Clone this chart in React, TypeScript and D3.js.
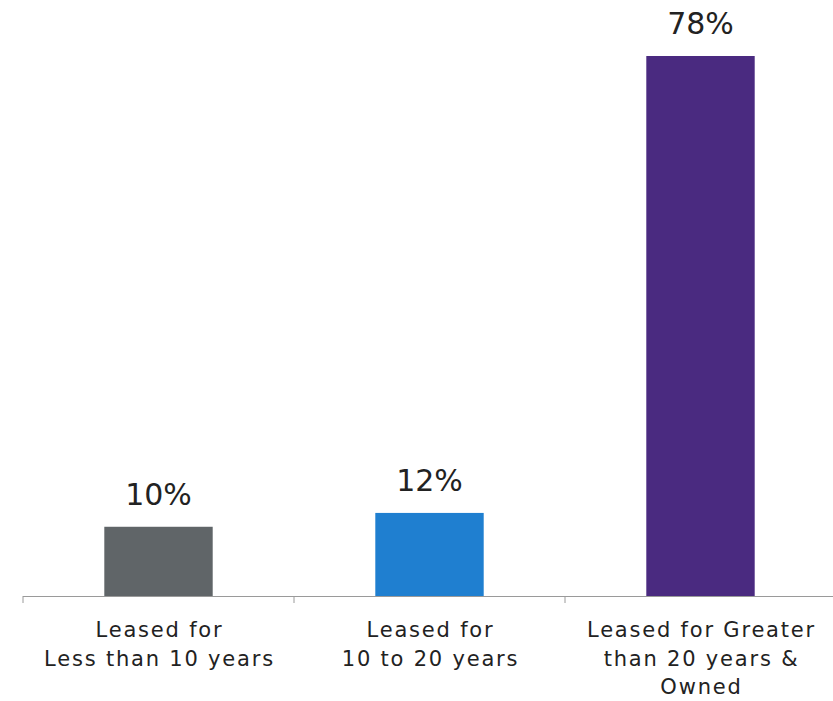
import React from "react";
import * as d3 from "d3";

const categories = ["lt10", "10to20", "gt20"];
const labelLines = [
  ["Leased for", "Less than 10 years"],
  ["Leased for", "10 to 20 years"],
  ["Leased for Greater", "than 20 years &", "Owned"],
];
const values = [10, 12, 78];
const colors = ["#606568", "#1f7fd0", "#4a2a80"];

const W = 833;
const H = 701;
const baseline = 596;
const topY = 56;

export default function App() {
  const x = d3
    .scaleBand<string>()
    .domain(categories)
    .range([23, 836])
    .paddingInner(0.6)
    .paddingOuter(0.3);
  const y = d3
    .scaleLinear()
    .domain([0, d3.max(values) as number])
    .range([baseline, topY]);
  const step = x.step();
  const tickXs = d3.range(categories.length + 1).map((i) => 23 + i * step);
  const font = "'DejaVu Sans', Verdana, sans-serif";

  return (
    <svg
      width={W}
      height={H}
      style={{ position: "absolute", left: 0, top: 0, display: "block", background: "#fff" }}
    >
      {categories.map((c, i) => (
        <g key={c}>
          <rect
            x={x(c)}
            y={y(values[i])}
            width={x.bandwidth()}
            height={baseline - y(values[i])}
            fill={colors[i]}
          />
          <text
            x={(x(c) as number) + x.bandwidth() / 2}
            y={y(values[i]) - 22}
            textAnchor="middle"
            fontFamily={font}
            fontSize={30}
            fill="#222"
          >
            {values[i]}%
          </text>
          <text
            textAnchor="middle"
            fontFamily={font}
            fontSize={21}
            letterSpacing={1.8}
            fill="#222"
          >
            {labelLines[i].map((l, j) => (
              <tspan key={j} x={(x(c) as number) + x.bandwidth() / 2 + 1} y={637 + j * 28.5}>
                {l}
              </tspan>
            ))}
          </text>
        </g>
      ))}
      <line x1={23} x2={W} y1={baseline + 0.5} y2={baseline + 0.5} stroke="#9a9a9a" strokeWidth={1} />
      {tickXs.map((tx, i) => (
        <line key={i} x1={tx} x2={tx} y1={baseline} y2={baseline + 7} stroke="#9a9a9a" strokeWidth={1} />
      ))}
    </svg>
  );
}
